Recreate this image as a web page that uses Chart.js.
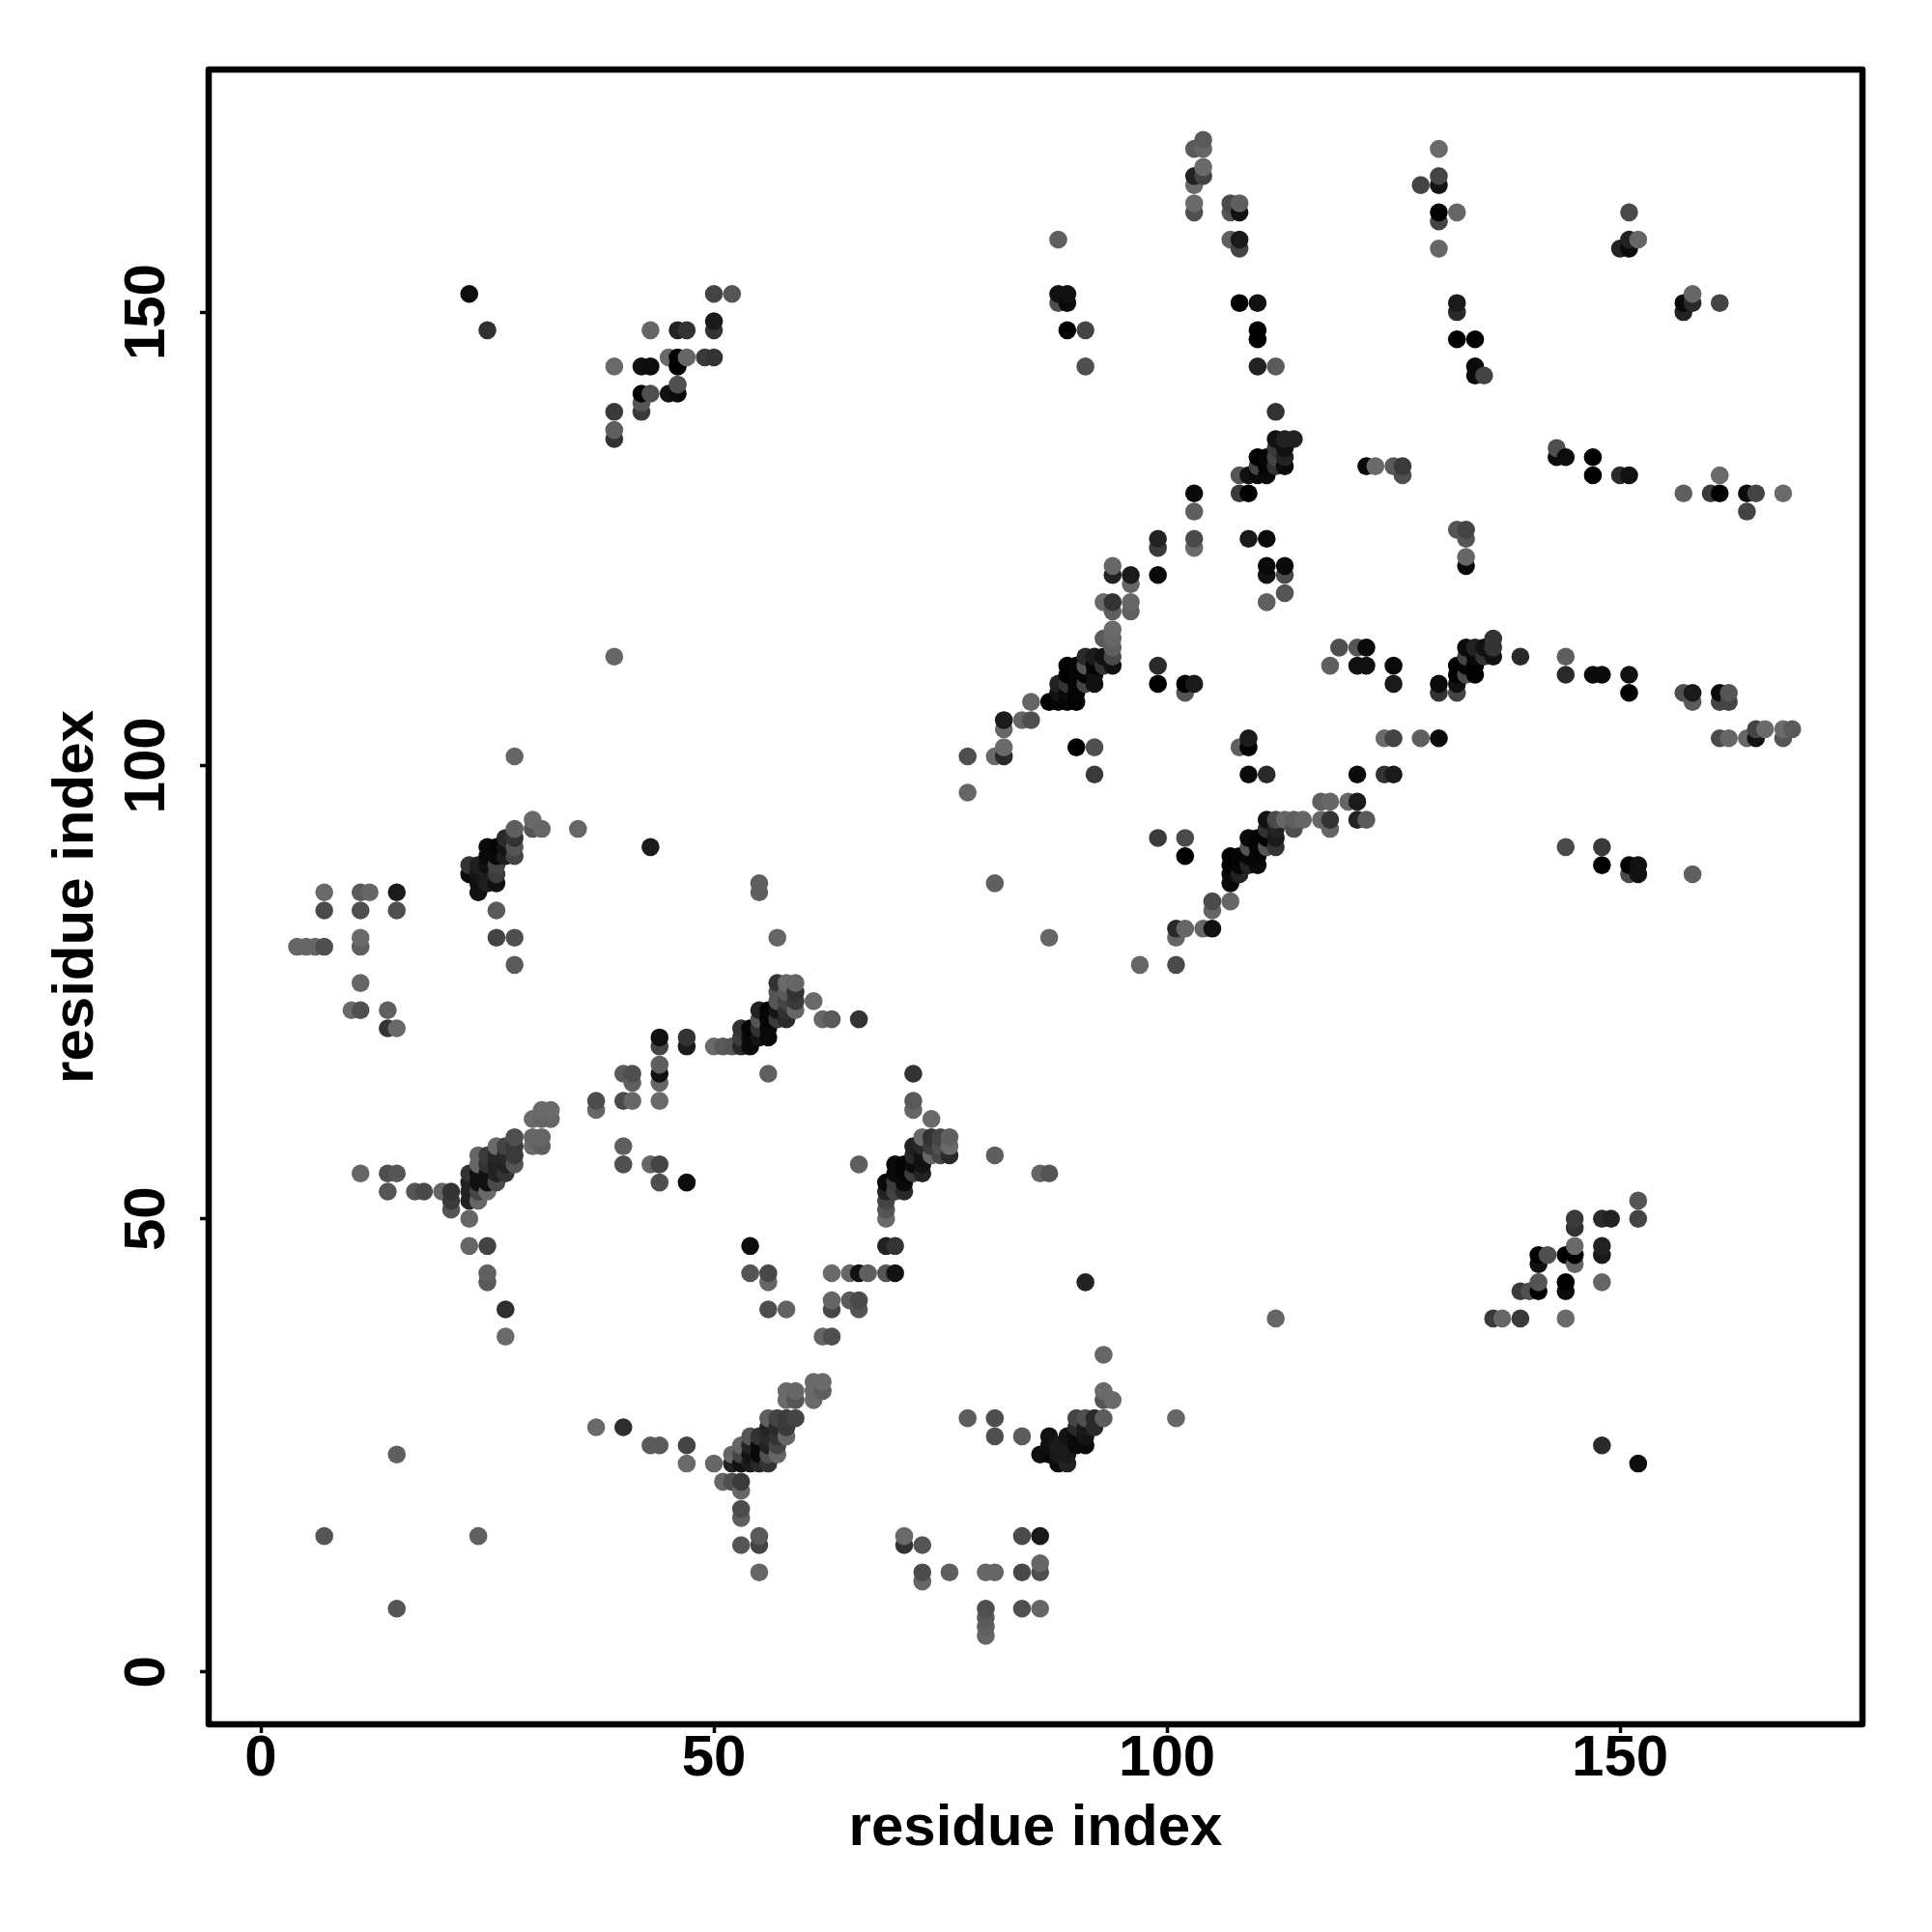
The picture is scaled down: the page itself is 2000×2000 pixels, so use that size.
<!DOCTYPE html>
<html>
<head>
<meta charset="utf-8">
<style>html,body{margin:0;padding:0;background:#fff}canvas{display:block}</style>
<script src="https://cdn.jsdelivr.net/npm/chart.js@4/dist/chart.umd.min.js"></script>
</head>
<body>
<canvas id="c" width="2000" height="2000"></canvas>
<script>
// Each contact: [residue i, residue j, grey level of the dot]
const axisTicks = [0, 50, 100, 150];
const axisTitle = "residue index";

const upperLeft = [[23,152,13],[25,148,48],[50,152,68],[52,152,85],[50,149,26],[50,148,51],[43,148,102],[46,148,34],[47,148,51],[39,144,106],[42,144,17],[43,144,13],[45,145,106],[46,145,0],[47,145,102],[49,145,58],[50,145,51],[46,144,0],[46,142,79],[42,141,0],[43,141,79],[45,141,17],[46,141,10],[42,140,85],[42,139,58],[39,139,58],[39,137,95],[39,136,51]];

const upperMiddle = [[104,169,90],[103,168,90],[104,168,102],[104,166,106],[103,165,34],[104,165,68],[103,164,106],[103,162,106],[103,161,79],[107,162,74],[108,162,95],[107,161,85],[108,161,17],[107,158,95],[108,158,26],[108,157,68],[88,158,95],[88,152,17],[89,152,17],[88,151,79],[89,151,10],[89,148,0],[91,148,68],[91,144,79],[108,151,0],[110,151,17],[110,148,0],[110,147,0],[110,144,34],[112,144,90]];

const upperRight = [[130,168,106],[130,165,68],[128,164,68],[130,164,17],[130,161,0],[132,161,102],[130,160,68],[130,157,102],[151,161,74],[151,158,34],[152,158,102],[150,157,34],[151,157,10],[132,151,26],[132,150,42],[132,147,0],[134,147,0],[134,144,10],[134,143,10],[135,143,68],[157,151,10],[158,151,42],[158,152,102],[157,150,34],[161,151,68]];

const band130 = [[112,139,51],[112,136,17],[113,136,34],[114,136,34],[112,135,58],[113,135,17],[110,134,0],[111,134,5],[112,134,68],[113,134,34],[110,133,68],[111,133,5],[112,133,51],[113,133,10],[108,132,85],[109,132,17],[110,132,10],[111,132,10],[122,133,10],[123,133,106],[125,133,90],[126,133,58],[126,132,79],[108,130,58],[109,130,0],[103,130,10],[103,128,95],[143,135,79],[143,134,10],[144,134,13],[147,134,0],[147,132,0],[150,132,42],[151,132,17],[161,132,106],[157,130,95],[160,130,58],[161,130,0],[164,130,10],[165,130,68],[168,130,106],[164,128,68]];

const band120 = [[99,125,34],[103,125,74],[109,125,26],[111,125,10],[99,124,58],[103,124,106],[94,122,102],[111,122,10],[113,122,10],[94,121,34],[96,121,26],[99,121,10],[111,121,17],[113,121,74],[96,120,102],[113,119,85],[111,118,95],[93,118,106],[94,118,51],[96,118,102],[94,117,95],[96,117,95],[132,126,85],[133,126,68],[133,125,85],[133,123,102],[133,122,10]];

const band110 = [[94,115,106],[93,114,90],[94,114,102],[94,113,95],[91,112,42],[92,112,26],[93,112,17],[94,112,74],[89,111,0],[90,111,5],[91,111,85],[92,111,5],[93,111,51],[94,111,17],[89,110,0],[90,110,5],[91,110,5],[92,110,17],[88,109,34],[89,109,51],[90,109,5],[91,109,68],[92,109,17],[88,108,17],[89,108,10],[90,108,5],[87,107,0],[88,107,5],[89,107,5],[90,107,0],[85,107,102],[99,111,42],[99,109,0],[102,109,0],[103,109,26],[102,108,85],[119,113,79],[121,113,85],[122,113,10],[118,111,95],[121,111,17],[122,111,17],[125,111,10],[125,109,26],[136,114,51],[136,113,51],[133,113,10],[134,113,34],[135,113,17],[133,112,68],[134,112,10],[135,112,51],[136,112,17],[139,112,42],[132,111,0],[133,111,5],[134,111,0],[132,110,0],[133,110,74],[134,110,0],[130,109,10],[132,109,17],[130,108,51],[132,108,68],[144,112,95],[144,110,42],[147,110,10],[148,110,10],[151,110,17],[151,108,0],[157,108,79],[158,108,26],[158,107,90],[161,108,10],[162,108,85],[161,107,68],[162,107,68]];

const band100 = [[82,105,26],[82,104,102],[84,105,102],[85,105,79],[82,102,106],[82,101,42],[81,101,106],[78,101,79],[78,97,102],[90,102,0],[92,102,79],[92,99,58],[109,103,26],[108,102,95],[109,102,0],[109,99,10],[111,99,42],[121,99,10],[124,99,51],[125,99,26],[124,103,106],[125,103,68],[128,103,95],[130,103,10],[161,103,74],[162,103,102],[164,103,102],[165,103,17],[165,104,68],[166,104,106],[168,103,85],[168,104,106],[169,104,90]];

const band90 = [[117,96,95],[118,96,102],[120,96,102],[121,96,26],[111,94,17],[112,94,74],[113,94,102],[114,94,95],[115,94,102],[117,94,102],[118,94,51],[121,94,34],[122,94,90],[111,93,51],[112,93,34],[114,93,79],[118,93,102],[109,92,10],[110,92,5],[111,92,5],[112,92,26],[109,91,85],[110,91,5],[111,91,85],[112,91,51],[107,90,0],[108,90,5],[109,90,5],[110,90,5],[107,89,0],[108,89,5],[109,89,34],[110,89,10],[107,88,10],[108,88,34],[107,87,10],[105,85,74],[107,85,102],[105,84,102],[101,82,42],[102,82,102],[104,82,102],[105,82,17],[101,81,102],[97,78,102],[101,78,74],[99,92,58],[102,92,74],[102,90,0],[81,87,95],[87,81,102],[144,91,74],[148,91,58],[148,89,0],[151,89,0],[152,89,17],[151,88,74],[152,88,17],[158,88,95]];

const leftMiddle = [[28,101,102],[35,93,102],[30,94,106],[31,93,102],[30,93,85],[28,93,95],[27,92,42],[28,92,51],[25,91,10],[26,91,5],[27,91,20],[28,91,85],[25,90,10],[26,90,10],[27,90,30],[28,90,68],[23,89,51],[24,89,30],[25,89,15],[26,89,68],[23,88,10],[24,88,20],[25,88,30],[26,88,60],[24,87,17],[25,87,30],[26,87,17],[24,86,17],[26,84,90],[26,81,68],[28,81,79],[28,78,90],[7,86,106],[7,84,74],[11,86,90],[12,86,102],[15,86,26],[11,84,79],[15,84,79],[11,81,106],[11,80,95],[4,80,102],[5,80,102],[6,80,102],[7,80,79],[11,76,102],[10,73,106],[11,73,79],[14,73,95],[14,71,51],[15,71,106],[43,91,26],[39,112,102],[55,87,95],[55,86,95],[57,81,102]];

const helix70 = [[47,70,51],[47,69,26],[44,70,17],[44,69,68],[44,67,95],[44,66,17],[44,65,102],[44,63,106],[40,66,90],[41,66,79],[41,65,95],[40,63,74],[41,63,102],[37,63,76],[37,62,102],[50,69,106],[51,69,90],[52,69,85],[53,69,40],[54,69,10],[53,70,60],[54,70,10],[55,70,20],[56,70,10],[53,71,51],[54,71,5],[55,71,50],[56,71,10],[55,72,85],[56,72,5],[57,72,60],[58,72,42],[55,73,34],[56,73,5],[57,73,20],[58,73,50],[59,73,102],[57,74,85],[58,74,68],[59,74,58],[57,75,85],[58,75,90],[59,75,51],[57,76,51],[58,76,106],[59,76,102],[61,74,106],[62,72,102],[63,72,90],[66,72,51],[56,66,95]];

const helix55 = [[31,62,106],[32,62,106],[30,61,106],[31,61,102],[32,61,102],[30,59,102],[31,59,102],[30,58,106],[31,58,95],[28,59,79],[28,58,58],[28,57,58],[28,56,85],[27,58,68],[26,58,106],[27,57,40],[26,57,40],[25,57,58],[24,57,102],[24,56,102],[25,56,51],[26,56,34],[27,56,34],[23,55,51],[24,55,17],[25,55,17],[26,55,34],[27,55,51],[23,54,34],[24,54,17],[25,54,17],[26,54,74],[21,53,51],[23,53,34],[24,53,68],[25,53,106],[21,52,58],[23,52,34],[24,52,102],[21,51,85],[23,50,102],[23,47,102],[25,47,68],[25,44,95],[25,43,90],[27,40,46],[27,37,106],[11,55,102],[14,55,79],[15,55,85],[14,53,85],[17,53,85],[18,53,74],[20,53,102],[40,58,95],[40,56,79],[43,56,102],[44,56,68],[44,54,79],[47,54,13]];

const helix55b = [[72,66,51],[72,63,90],[72,62,102],[74,61,106],[73,59,106],[74,59,51],[75,59,68],[76,59,95],[72,58,34],[73,58,40],[74,58,60],[75,58,80],[76,58,106],[72,57,40],[73,57,17],[74,57,102],[75,57,70],[76,57,42],[70,56,10],[71,56,5],[72,56,10],[73,56,17],[70,55,10],[71,55,5],[72,55,60],[73,55,34],[69,54,10],[70,54,60],[71,54,10],[69,53,34],[70,53,68],[71,53,42],[69,52,68],[69,51,85],[69,50,106],[66,56,95],[81,57,95],[86,55,102],[87,55,85],[54,47,13],[69,47,34],[70,47,51],[54,44,85],[56,44,72],[56,43,102],[63,44,106],[65,44,102],[66,44,17],[67,44,95],[69,44,85],[70,44,17],[63,41,102],[65,41,92],[66,41,74],[56,40,77],[58,40,98],[63,40,71],[66,40,85],[62,37,102],[63,37,79],[91,43,34],[112,39,102]];

const helix25 = [[61,32,106],[62,32,106],[58,31,106],[59,31,102],[61,31,106],[62,31,95],[58,30,106],[59,30,85],[61,30,106],[56,28,95],[57,28,68],[58,28,60],[59,28,68],[56,27,34],[57,27,42],[58,27,58],[54,26,85],[55,26,50],[56,26,42],[57,26,51],[58,26,102],[53,25,102],[54,25,34],[55,25,10],[56,25,34],[57,25,68],[52,24,102],[53,24,70],[54,24,20],[55,24,10],[56,24,80],[57,24,102],[52,23,34],[53,23,17],[54,23,26],[55,23,40],[56,23,51],[44,25,90],[47,25,68],[47,23,106],[50,23,102],[37,27,106],[40,27,46],[43,25,90],[51,21,102],[52,21,79],[53,21,58],[53,20,102],[53,18,76],[53,17,95],[55,15,90],[53,14,85],[55,14,68],[55,11,102]];

const helix25b = [[93,35,102],[93,31,106],[94,30,106],[93,30,85],[78,28,92],[81,28,78],[90,28,68],[91,28,79],[92,28,42],[93,28,92],[101,28,102],[90,27,42],[91,27,26],[92,27,42],[81,26,79],[84,26,92],[87,26,17],[89,26,20],[90,26,10],[91,26,20],[87,25,17],[88,25,26],[89,25,26],[90,25,10],[91,25,10],[86,24,17],[87,24,10],[88,24,26],[89,24,26],[88,23,10],[89,23,34],[71,15,106],[84,15,74],[86,15,26],[71,14,51],[73,14,85],[73,11,76],[76,11,95],[80,11,102],[81,11,102],[84,11,72],[86,11,79],[86,12,102],[73,10,102],[80,7,79],[84,7,79],[86,7,102],[80,6,90],[80,5,95],[80,4,102],[15,24,95],[7,15,85],[24,15,96],[15,7,85]];

const lowerRight = [[152,52,85],[152,50,68],[145,50,58],[145,49,51],[148,50,42],[149,50,34],[148,47,34],[148,46,26],[145,47,106],[145,46,0],[144,46,0],[145,45,102],[141,46,0],[142,46,79],[141,45,17],[141,43,85],[141,42,0],[139,42,58],[140,42,79],[144,43,0],[144,42,13],[148,43,102],[136,39,58],[137,39,102],[139,39,58],[144,39,106],[148,25,42],[152,23,13]];

const contactGroups = [upperLeft, upperMiddle, upperRight, band130, band120, band110, band100, band90, leftMiddle, helix70, helix55, helix55b, helix25, helix25b, lowerRight];
const contacts = contactGroups.flat().sort((a, b) => a[0] - b[0] || a[1] - b[1]);

const font = { family: '"Liberation Sans", Arial, sans-serif', weight: 'bold', size: 60 };

const framePlugin = {
  id: 'frame',
  afterDraw(chart) {
    const a = chart.chartArea, ctx = chart.ctx;
    ctx.save();
    ctx.lineWidth = 6.5;
    ctx.strokeStyle = '#000';
    ctx.lineJoin = 'round';
    ctx.strokeRect(a.left, a.top, a.right - a.left, a.bottom - a.top);
    ctx.restore();
  }
};

function axis(titlePadding, tickOpts, fit) {
  return {
    type: 'linear',
    min: -5.76,
    max: 176.75,
    afterBuildTicks: s => { s.ticks = axisTicks.map(v => ({ value: v })); },
    afterFit: fit,
    border: { display: false },
    grid: { drawOnChartArea: false, drawTicks: true, tickLength: 9, tickWidth: 3.5, tickColor: '#000' },
    ticks: Object.assign({ color: '#000', font, autoSkip: false }, tickOpts),
    title: { display: true, text: axisTitle, color: '#000', font, padding: titlePadding }
  };
}

new Chart(document.getElementById('c'), {
  type: 'scatter',
  data: {
    datasets: [{
      data: contacts.map(c => ({ x: c[0], y: c[1] })),
      backgroundColor: contacts.map(c => `rgb(${c[2]},${c[2]},${c[2]})`),
      borderWidth: 0,
      pointRadius: 9.3,
      pointHoverRadius: 9.3
    }]
  },
  options: {
    responsive: false,
    animation: false,
    devicePixelRatio: 1,
    layout: { padding: { left: 0, right: 72, top: 72, bottom: 0 } },
    plugins: { legend: { display: false }, tooltip: { enabled: false } },
    scales: {
      x: axis({ top: 0, bottom: 71 }, { padding: -9, maxRotation: 0, minRotation: 0 }, s => { s.height = 215; }),
      y: axis({ top: 43, bottom: 0 }, { padding: 3, minRotation: 90, maxRotation: 90, crossAlign: 'center' }, s => { s.width = 216; })
    }
  },
  plugins: [framePlugin]
});
</script>
</body>
</html>
